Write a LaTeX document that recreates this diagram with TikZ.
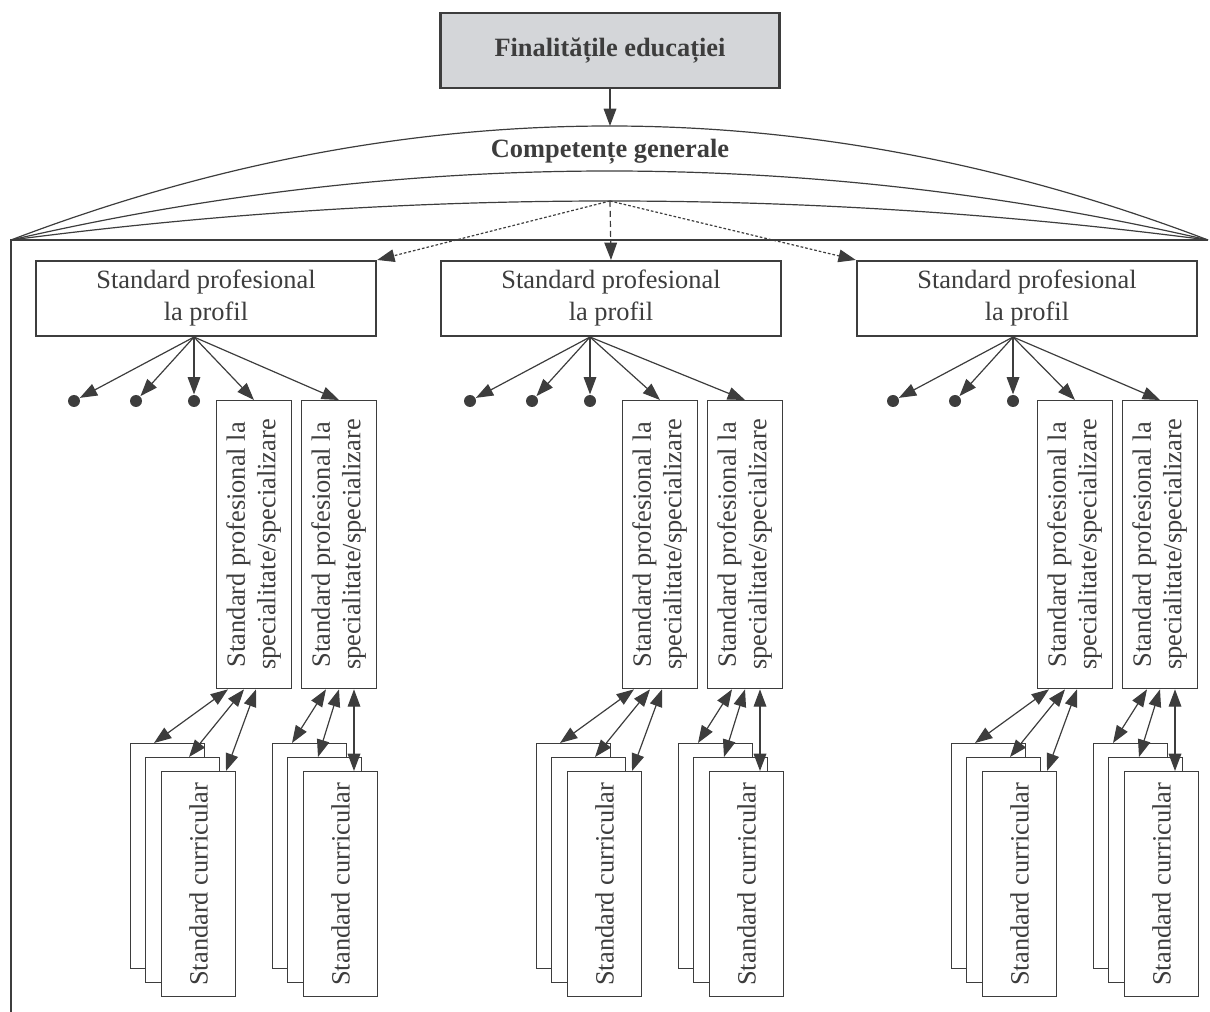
\documentclass[tikz,border=0pt]{standalone}
\usepackage{fontspec}
\usepackage{graphicx}
\setmainfont{Liberation Serif}
\usetikzlibrary{arrows.meta,calc}
\definecolor{ink}{HTML}{3D3D3D}
\definecolor{boxgray}{HTML}{D4D6D9}
\newcommand\spectext{\rotatebox{90}{\begin{tabular}{@{}c@{}}Standard profesional la\\specialitate/specializare\end{tabular}}}
\newcommand\curtext{\rotatebox{90}{Standard curricular}}
\begin{document}
\begin{tikzpicture}[x=0.75pt,y=-0.75pt,color=ink,line width=0.9pt,
  >={Triangle[length=13pt,width=9.5pt]},
  font=\fontsize{19.8}{23}\selectfont,
  titlefont/.style={font=\fontsize{19.8}{23}\selectfont\bfseries},
  finbox/.style={draw,fill=boxgray,line width=1.8pt,minimum width=254pt,minimum height=56pt,inner sep=0pt,titlefont},
  profbox/.style={draw,fill=white,line width=1.8pt,minimum width=255pt,minimum height=56pt,inner sep=0pt,align=center,font=\fontsize{19.8}{24}\selectfont},
  specbox/.style={draw,line width=1pt,minimum width=56pt,minimum height=216pt,inner sep=0pt,anchor=north west},
  curbox/.style={draw,fill=white,line width=1pt,minimum width=55.5pt,minimum height=168.75pt,inner sep=0pt,anchor=north west},
  blob/.style={circle,fill,inner sep=0pt,minimum size=9pt},
  borderline/.style={line width=1.8pt},
  sidedash/.style={dash pattern=on 2pt off 1.5pt},
  middash/.style={dash pattern=on 4.5pt off 3pt}]
  \useasboundingbox (0,0) rectangle (1210,1012);
  \node[finbox] (fin) at (610,50.5) {Finalitățile educației};
  \coordinate (gen) at (610,126);
  \node[titlefont] (comp) at (610,152) {Competențe generale};
  \coordinate (inner) at (610,201);
  \coordinate (L) at (11,240);
  \coordinate (R) at (1208,240);
  \coordinate (B) at (11,1012);
  \draw[->] (fin) -- (gen);
  \draw (L) .. controls (410,88) and (809,88) .. (R);
  \draw (L) .. controls (410,148) and (809,148) .. (R);
  \draw (L) .. controls (410,188) and (809,188) .. (R);
  \draw[borderline] (R) -- (L) -- (B);
  \foreach \g/\px/\fx/\vx in {1/36/194/216,2/441/590/622,3/857/1013/1037}{
    \node[profbox] (p\g) at (\px+170,298.5) {Standard profesional\\la profil};
    \node[blob] (d\g1) at (\fx-120,401) {};
    \node[blob] (d\g2) at (\fx-58,401) {};
    \node[blob] (d\g3) at (\fx,401) {};
    \coordinate (f\g) at (p\g.south -| d\g3);
    \node[specbox] (s\g1) at (\vx,400) {\spectext};
    \node[specbox] (s\g2) at (\vx+85,400) {\spectext};
    \node[curbox] (c\g1) at (\vx-86,743) {};
    \node[curbox] (c\g2) at (\vx-71,757) {};
    \node[curbox] (c\g3) at (\vx-55,771) {\curtext};
    \node[curbox] (c\g4) at (\vx+56,743) {};
    \node[curbox] (c\g5) at (\vx+71,757) {};
    \node[curbox] (c\g6) at (\vx+87,771) {\curtext};
    \draw[->] (f\g) -- (d\g1);
    \draw[->] (f\g) -- (d\g2);
    \draw[->] (f\g) -- (d\g3);
    \draw[->] (f\g) -- (s\g1.north);
    \draw[->] (f\g) -- (s\g2.north);
    \draw[<->] ($(s\g1.south west)+(12,0)$) -- ($(c\g1.north west)+(24,0)$);
    \draw[<->] ($(s\g1.south west)+(28,0)$) -- ($(c\g2.north west)+(44,0)$);
    \draw[<->] ($(s\g1.south west)+(40,0)$) -- ($(c\g3.north west)+(65,0)$);
    \draw[<->] ($(s\g2.south west)+(25,0)$) -- ($(c\g4.north west)+(20,0)$);
    \draw[<->] ($(s\g2.south west)+(38,0)$) -- ($(c\g5.north west)+(31,0)$);
    \draw[<->] ($(s\g2.south west)+(53,0)$) -- ($(c\g6.north west)+(51,0)$);
  }
  \draw[->,sidedash] (inner) -- (p1.north east);
  \draw[->,middash] (inner) -- (p2.north);
  \draw[->,sidedash] (inner) -- (p3.north west);
\end{tikzpicture}
\end{document}
